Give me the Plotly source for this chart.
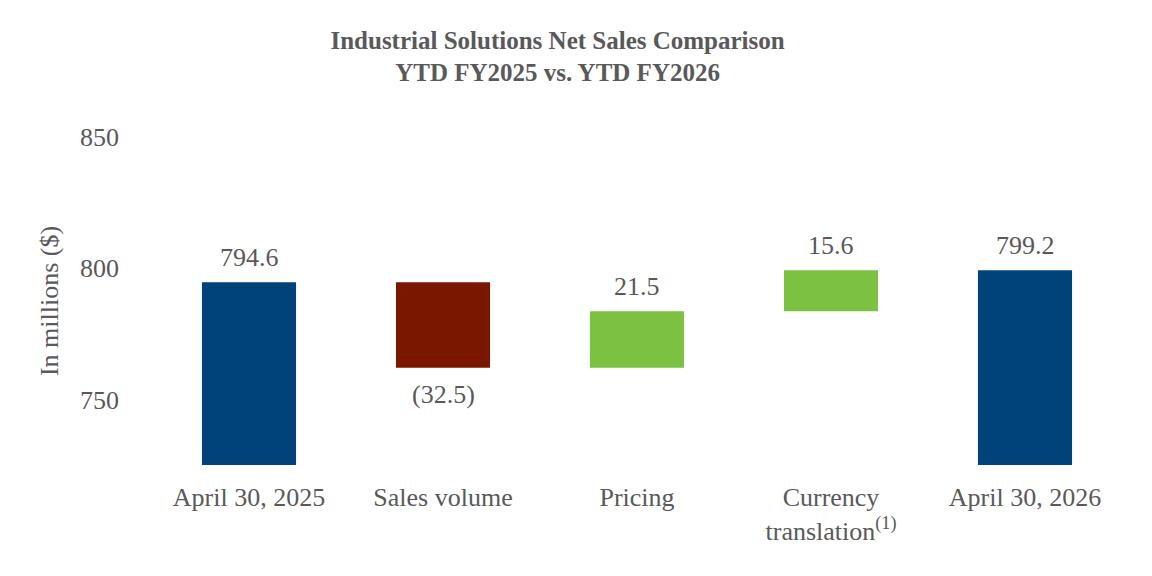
import plotly.graph_objects as go

categories = ["April 30, 2025", "Sales volume", "Pricing",
              "Currency<br>translation<sup>(1)</sup>", "April 30, 2026"]
measures = ["absolute", "relative", "relative", "relative", "total"]
values = [794.6, -32.5, 21.5, 15.6, 0]
value_labels = ["794.6", "(32.5)", "21.5", "15.6", "799.2"]
y_ticks = [750, 800, 850]

FONT = "Liberation Serif, Times New Roman, serif"
GREY = "#595959"
NAVY = "#00437A"
RED = "#7A1700"
GREEN = "#7DC142"

fig = go.Figure(go.Waterfall(
    x=categories,
    y=values,
    measure=measures,
    totals=dict(marker=dict(color=NAVY)),
    increasing=dict(marker=dict(color=GREEN)),
    decreasing=dict(marker=dict(color=RED)),
    connector=dict(visible=False),
    textinfo="none",
    hoverinfo="skip",
))

# value labels positioned from running totals
running = 0.0
for cat, m, v, lab in zip(categories, measures, values, value_labels):
    if m == "absolute":
        running = v
        y, shift = running, 25
    elif m == "relative":
        running += v
        y, shift = (running, 25) if v >= 0 else (running, -27)
    else:
        y, shift = running, 25
    fig.add_annotation(x=cat, y=y, text=lab, showarrow=False, yshift=shift,
                       yanchor="middle", font=dict(family=FONT, size=26, color=GREY))

fig.update_layout(
    width=1152, height=576,
    margin=dict(l=152, r=30, t=137, b=111),
    paper_bgcolor="white", plot_bgcolor="white",
    showlegend=False,
    waterfallgap=0.515,
    title=dict(
        text="<b>Industrial Solutions Net Sales Comparison<br>YTD FY2025 vs. YTD FY2026</b>",
        x=0.484, xanchor="center", y=0.915, yanchor="top",
        font=dict(family=FONT, size=25, color=GREY),
    ),
    font=dict(family=FONT, size=26, color=GREY),
)
fig.update_xaxes(showgrid=False, showline=False, zeroline=False, ticks="",
                 tickfont=dict(family=FONT, size=26, color=GREY), ticklabelstandoff=14)
fig.update_yaxes(range=[725, 850], tickvals=y_ticks, showgrid=False, showline=False,
                 zeroline=False, ticks="", ticklabelstandoff=32,
                 tickfont=dict(family=FONT, size=26, color=GREY),
                 title=dict(text="In millions ($)", standoff=13,
                            font=dict(family=FONT, size=26, color=GREY)))

fig.write_html("out.html")
